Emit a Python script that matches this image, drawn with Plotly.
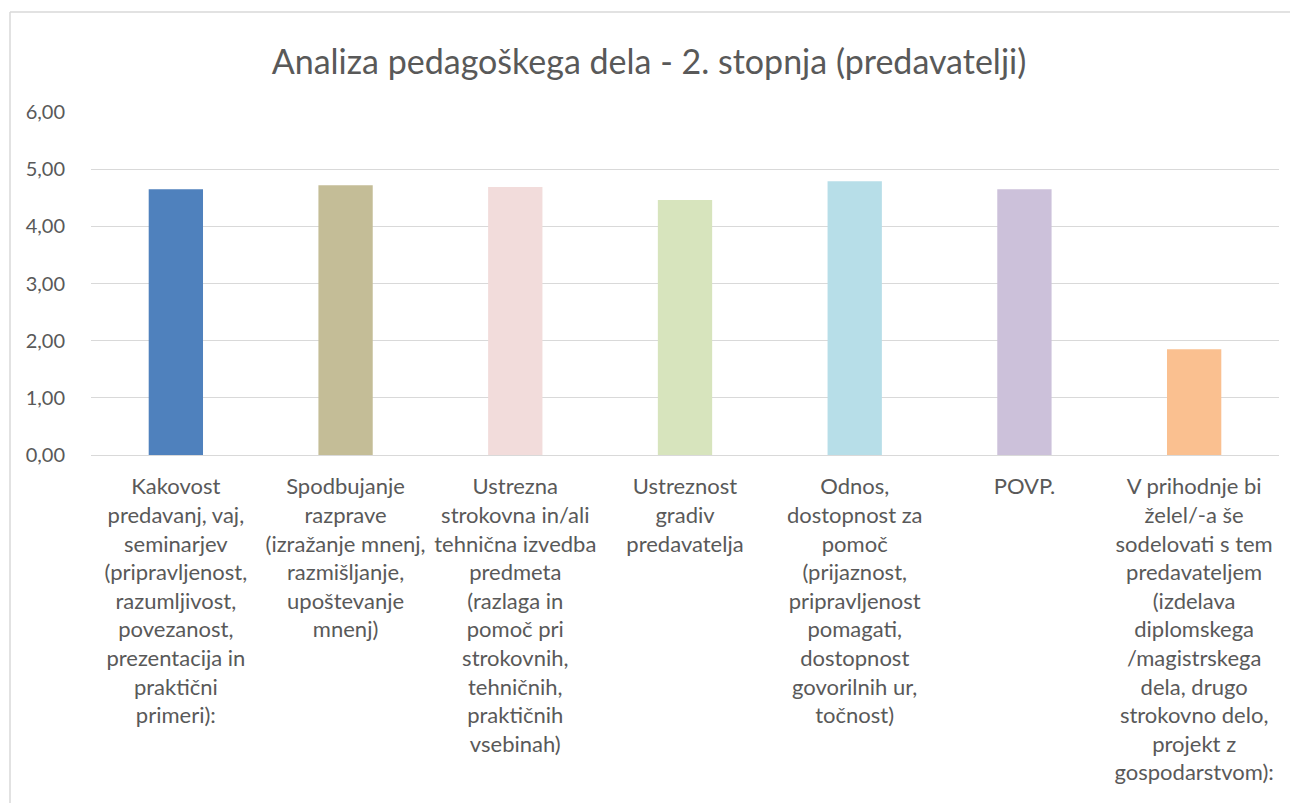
import plotly.graph_objects as go

categories = [
    "Kakovost<br>predavanj, vaj,<br>seminarjev<br>(pripravljenost,<br>razumljivost,<br>povezanost,<br>prezentacija in<br>praktični<br>primeri):",
    "Spodbujanje<br>razprave<br>(izražanje mnenj,<br>razmišljanje,<br>upoštevanje<br>mnenj)",
    "Ustrezna<br>strokovna in/ali<br>tehnična izvedba<br>predmeta<br>(razlaga in<br>pomoč pri<br>strokovnih,<br>tehničnih,<br>praktičnih<br>vsebinah)",
    "Ustreznost<br>gradiv<br>predavatelja",
    "Odnos,<br>dostopnost za<br>pomoč<br>(prijaznost,<br>pripravljenost<br>pomagati,<br>dostopnost<br>govorilnih ur,<br>točnost)",
    "POVP.",
    "V prihodnje bi<br>želel/-a še<br>sodelovati s tem<br>predavateljem<br>(izdelava<br>diplomskega<br>/magistrskega<br>dela, drugo<br>strokovno delo,<br>projekt z<br>gospodarstvom):",
]
values = [4.65, 4.72, 4.69, 4.46, 4.79, 4.65, 1.85]
colors = ["#4F81BD", "#C4BD97", "#F2DCDB", "#D7E4BD", "#B7DEE8", "#CCC1DA", "#FAC090"]

FONT = "Lato"
GREY = "#595959"

# page has an 8px body margin, so the figure is a bit smaller than the window
W, H = 1290, 795
L, R, T, B = 83, 19, 104, 348
PW, PH = W - L - R, H - T - B

fig = go.Figure()
fig.add_trace(go.Bar(x=categories, y=values, marker_color=colors, marker_line_width=0))

fig.update_layout(
    width=W, height=H,
    paper_bgcolor="white", plot_bgcolor="white",
    margin=dict(l=L, r=R, t=T, b=B),
    separators=", ",
    bargap=0.68,
    showlegend=False,
    font=dict(family=FONT, color=GREY, size=22),
    title=dict(text="Analiza pedagoškega dela - 2. stopnja (predavatelji)",
               x=(649 - 8) / W, xanchor="center", y=1 - (62 - 8) / H, yanchor="middle",
               font=dict(family=FONT, size=34, color=GREY)),
)
fig.update_yaxes(range=[0, 6], dtick=1, tickformat=".2f", gridcolor="#D9D9D9", gridwidth=1,
                 zeroline=False, showline=False, ticklabelstandoff=25,
                 tickfont=dict(size=20, color=GREY))
fig.update_xaxes(showline=True, linecolor="#D9D9D9", linewidth=1, showgrid=False,
                 ticklabelstandoff=12, tickfont=dict(size=22, color=GREY))

# chart frame (left and top edges, the rest is cut off)
fx0, fx1 = (2 - L) / PW, (W - L) / PW
fy0, fy1 = (T + PH - 810) / PH, (T + PH - 4) / PH
frame = dict(color="#D9D9D9", width=1.5)
fig.add_shape(type="line", xref="paper", yref="paper", x0=fx0, x1=fx0, y0=fy0, y1=fy1, line=frame)
fig.add_shape(type="line", xref="paper", yref="paper", x0=fx0, x1=fx1, y0=fy1, y1=fy1, line=frame)

fig.write_html("out.html")
